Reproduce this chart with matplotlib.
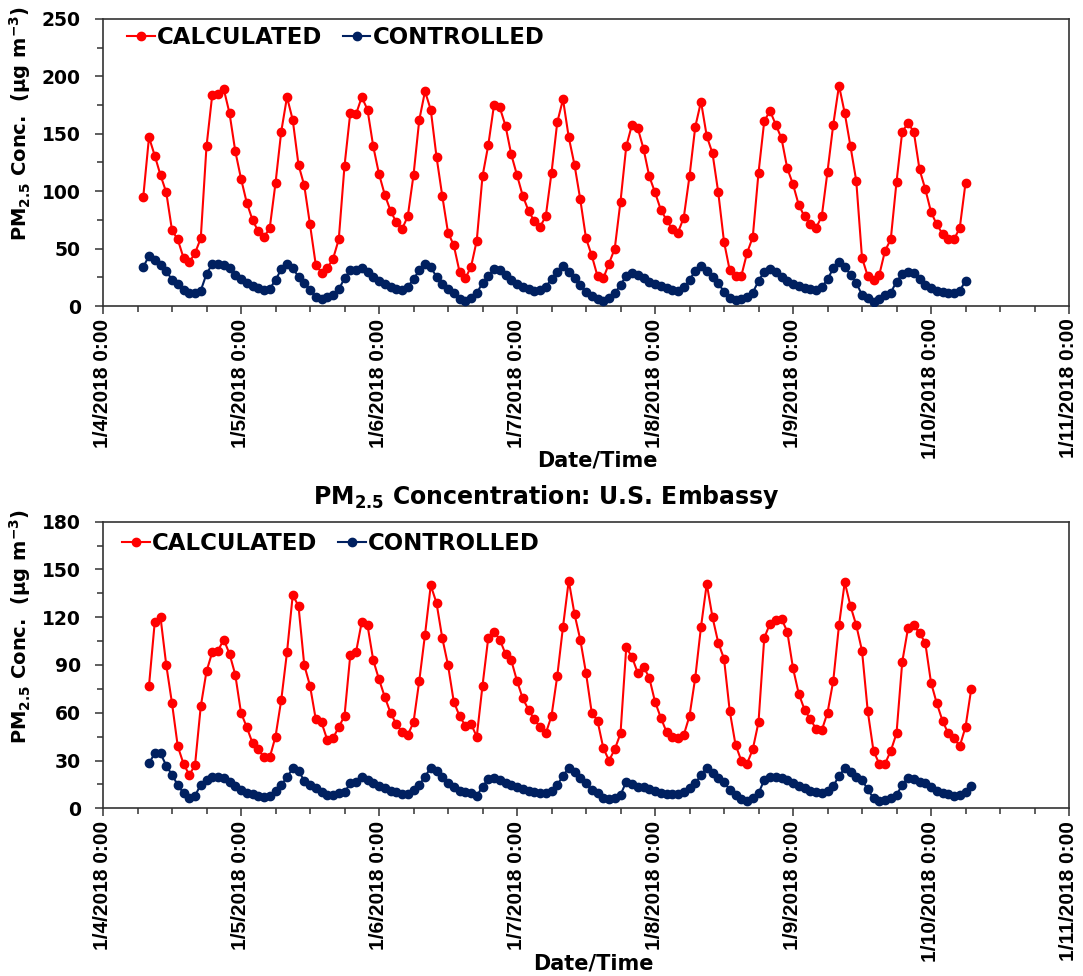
import matplotlib
matplotlib.use("Agg")
import matplotlib.pyplot as plt
import matplotlib.dates as mdates
from matplotlib.ticker import MultipleLocator, FuncFormatter
from datetime import datetime
import pandas as pd

# ---------------- data (hourly PM2.5, ug/m3) ----------------
# Upper panel: series starts 2018-01-04 07:00
top_start = "2018-01-04 07:00"
top_calculated = [
    95, 147, 131, 114, 99, 66, 58, 42, 38, 46, 59, 139,
    184, 185, 189, 168, 135, 111, 90, 75, 65, 60, 68, 107,
    152, 182, 162, 123, 105, 71, 36, 29, 33, 41, 58, 122,
    168, 167, 182, 171, 139, 115, 97, 83, 73, 67, 78, 114,
    162, 187, 171, 130, 96, 64, 53, 30, 24, 34, 57, 113,
    140, 175, 173, 157, 132, 114, 96, 83, 74, 69, 78, 116,
    160, 180, 147, 123, 93, 59, 44, 26, 24, 37, 50, 91,
    139, 158, 155, 137, 113, 99, 84, 75, 67, 64, 77, 113,
    156, 178, 148, 133, 99, 56, 31, 26, 26, 46, 60, 116,
    161, 170, 158, 146, 120, 106, 88, 78, 71, 68, 78, 117,
    158, 192, 168, 139, 109, 42, 26, 23, 27, 48, 58, 108,
    152, 159, 152, 119, 102, 82, 71, 63, 58, 58, 68, 107,
]
top_controlled = [
    34.0, 43.6, 40.0, 35.7, 30.8, 22.6, 19.0, 14.0, 11.6, 11.6, 13.4, 27.9,
    36.6, 36.3, 35.7, 32.8, 27.0, 23.5, 20.3, 17.4, 15.4, 14.0, 15.0, 22.6,
    32.0, 37.0, 32.8, 25.6, 20.3, 14.0, 8.1, 6.0, 7.5, 9.6, 14.5, 24.0,
    31.4, 31.4, 33.4, 30.0, 25.6, 22.0, 19.0, 16.8, 14.8, 14.0, 16.8, 23.2,
    31.4, 37.0, 33.7, 25.6, 19.0, 14.5, 11.0, 6.0, 4.6, 6.7, 11.0, 20.3,
    26.0, 32.0, 31.4, 26.7, 22.6, 19.0, 16.8, 14.5, 13.4, 14.0, 16.8, 23.2,
    30.0, 35.0, 30.0, 24.0, 18.3, 12.0, 9.0, 5.8, 4.6, 7.3, 11.0, 18.3,
    26.4, 28.5, 27.0, 24.0, 21.2, 19.0, 17.7, 15.4, 14.0, 13.4, 16.3, 22.6,
    30.8, 34.8, 30.8, 25.6, 19.7, 12.5, 7.3, 5.2, 6.0, 8.1, 11.6, 21.8,
    30.0, 32.0, 30.0, 25.6, 21.8, 19.0, 17.4, 16.0, 14.5, 14.0, 16.3, 23.2,
    32.8, 38.6, 34.3, 27.0, 20.3, 9.6, 6.7, 3.8, 6.0, 9.6, 11.6, 21.2,
    27.9, 30.0, 28.5, 23.2, 18.3, 15.4, 13.4, 12.0, 11.0, 11.0, 13.4, 21.8,
]

# Lower panel (U.S. Embassy): series starts 2018-01-04 08:00
bottom_start = "2018-01-04 08:00"
bottom_calculated = [
    77, 117, 120, 90, 66, 39, 28, 21, 27, 64, 86, 98,
    99, 106, 97, 84, 60, 51, 41, 37, 32, 32, 45, 68,
    98, 134, 127, 90, 77, 56, 54, 43, 44, 51, 58, 96,
    98, 117, 115, 93, 81, 70, 60, 53, 48, 46, 54, 80,
    109, 140, 129, 107, 90, 67, 58, 52, 53, 45, 77, 107,
    111, 106, 97, 93, 80, 69, 62, 56, 51, 47, 58, 83,
    114, 143, 122, 106, 85, 60, 55, 38, 30, 37, 47, 101,
    95, 85, 89, 82, 67, 57, 48, 45, 44, 46, 58, 82,
    114, 141, 120, 104, 94, 61, 40, 30, 28, 37, 54, 107,
    116, 118, 119, 111, 88, 72, 62, 56, 50, 49, 60, 80,
    115, 142, 127, 115, 99, 61, 36, 28, 28, 36, 47, 92,
    113, 115, 110, 104, 79, 66, 55, 47, 44, 39, 51, 75,
]
bottom_controlled = [
    28.3, 34.5, 34.5, 26.8, 21.0, 14.7, 9.4, 6.7, 8.0, 14.7, 17.8, 19.5,
    19.5, 18.8, 16.7, 14.2, 11.5, 9.8, 8.8, 8.0, 7.3, 8.0, 10.9, 14.7,
    19.5, 25.1, 23.7, 17.2, 14.7, 12.6, 10.0, 8.4, 8.4, 9.4, 10.0, 15.7,
    16.7, 19.5, 17.8, 15.7, 14.0, 12.6, 11.1, 10.0, 9.0, 9.0, 11.5, 14.7,
    19.9, 25.5, 23.7, 19.9, 16.1, 13.2, 10.9, 10.0, 9.4, 7.7, 13.6, 18.4,
    19.3, 17.8, 16.1, 14.7, 13.2, 11.9, 10.9, 10.0, 9.4, 9.4, 10.9, 14.7,
    20.3, 25.5, 23.0, 18.8, 15.7, 11.5, 9.4, 6.3, 5.7, 6.7, 8.4, 16.7,
    15.0, 13.6, 13.6, 11.9, 10.9, 9.8, 9.0, 8.8, 9.0, 10.0, 12.6, 15.7,
    20.9, 25.5, 22.0, 18.8, 16.7, 11.5, 8.4, 5.9, 4.8, 6.3, 9.4, 17.8,
    19.5, 19.5, 18.8, 17.8, 16.1, 14.2, 12.6, 11.1, 10.0, 9.4, 10.9, 14.0,
    20.3, 25.1, 23.0, 19.9, 17.8, 11.9, 6.3, 4.6, 5.2, 6.7, 8.4, 14.7,
    18.8, 18.2, 16.7, 15.7, 13.2, 11.1, 9.8, 8.8, 8.0, 8.4, 10.0, 14.0,
]

series_names = ["CALCULATED", "CONTROLLED"]
series_colors = ["#FF0000", "#002060"]
x_range = (datetime(2018, 1, 4), datetime(2018, 1, 11))
top_ylim, top_major, top_minor = 250, 50, 25
bottom_ylim, bottom_major, bottom_minor = 180, 30, 15
ylabel_text = "PM$_{2.5}$ Conc.  (\u00b5g m$^{-3}$)"
bottom_title = "PM$_{2.5}$ Concentration: U.S. Embassy"
xlabel_text = "Date/Time"

# ---------------- style ----------------
plt.rcParams["font.family"] = ["DejaVu Sans"]
plt.rcParams["font.weight"] = "bold"
plt.rcParams["mathtext.fontset"] = "dejavusans"
plt.rcParams["mathtext.default"] = "bf"

SPINE = "#333333"


def date_label(v, pos=None):
    d = mdates.num2date(v)
    return f"{d.month}/{d.day}/{d.year} {d.hour}:{d.minute:02d}"


def style_axes(ax, ymax, major, minor):
    ax.set_xlim(*x_range)
    ax.set_ylim(0, ymax)
    ax.xaxis.set_major_locator(mdates.DayLocator())
    ax.xaxis.set_minor_locator(mdates.HourLocator(byhour=[6, 12, 18]))
    ax.xaxis.set_major_formatter(FuncFormatter(date_label))
    ax.yaxis.set_major_locator(MultipleLocator(major))
    ax.yaxis.set_minor_locator(MultipleLocator(minor))
    for s in ax.spines.values():
        s.set_color(SPINE)
        s.set_linewidth(1.2)
    ax.tick_params(axis="both", which="both", direction="out", color=SPINE, width=1.1,
                   top=False, right=False)
    ax.tick_params(axis="both", which="major", length=6)
    ax.tick_params(axis="both", which="minor", length=4)
    ax.tick_params(axis="y", which="major", pad=10, labelsize=13.5)
    ax.tick_params(axis="x", which="major", pad=3)
    for lab in ax.get_yticklabels():
        lab.set_fontweight("bold")
    for lab in ax.get_xticklabels():
        lab.set_rotation(90)
        lab.set_fontfamily(["Liberation Sans", "DejaVu Sans"])
        lab.set_fontsize(15)
        lab.set_fontweight("bold")
    ax.set_ylabel(ylabel_text, fontsize=14, fontweight="bold")
    ax.yaxis.set_label_coords(-0.0725, 0.635)
    ax.set_xlabel(xlabel_text, fontsize=15, fontweight="bold")


def draw_panel(ax, start, calc, ctrl):
    for vals, name, col in zip([calc, ctrl], series_names, series_colors):
        t = pd.date_range(start, periods=len(vals), freq="h")
        ax.plot(t, vals, color=col, lw=1.5, marker="o", ms=6, mec=col, mfc=col,
                label=name, zorder=3)


fig = plt.figure(figsize=(10.83, 9.76), dpi=100)
W, H = 1083.0, 976.0
ax1 = fig.add_axes([103 / W, 1 - 306 / H, 966 / W, 287 / H])
ax2 = fig.add_axes([103 / W, 1 - 808.3 / H, 966 / W, 286.6 / H])

draw_panel(ax1, top_start, top_calculated, top_controlled)
draw_panel(ax2, bottom_start, bottom_calculated, bottom_controlled)

style_axes(ax1, top_ylim, top_major, top_minor)
style_axes(ax2, bottom_ylim, bottom_major, bottom_minor)

ax1.xaxis.set_label_coords(0.512, -0.505)
ax2.xaxis.set_label_coords(0.508, -0.508)

ax2.set_title(bottom_title, fontsize=17, fontweight="bold", x=0.459, pad=13)

for ax, anchor in [(ax1, (0.025, 0.975)), (ax2, (0.02, 0.965))]:
    ax.legend(loc="upper left", bbox_to_anchor=anchor, ncol=2, frameon=False,
              prop={"size": 16.5, "weight": "bold"}, handlelength=1.2,
              handletextpad=0.1, columnspacing=0.9, borderaxespad=0, borderpad=0)

fig.savefig("out.png", dpi=100)
